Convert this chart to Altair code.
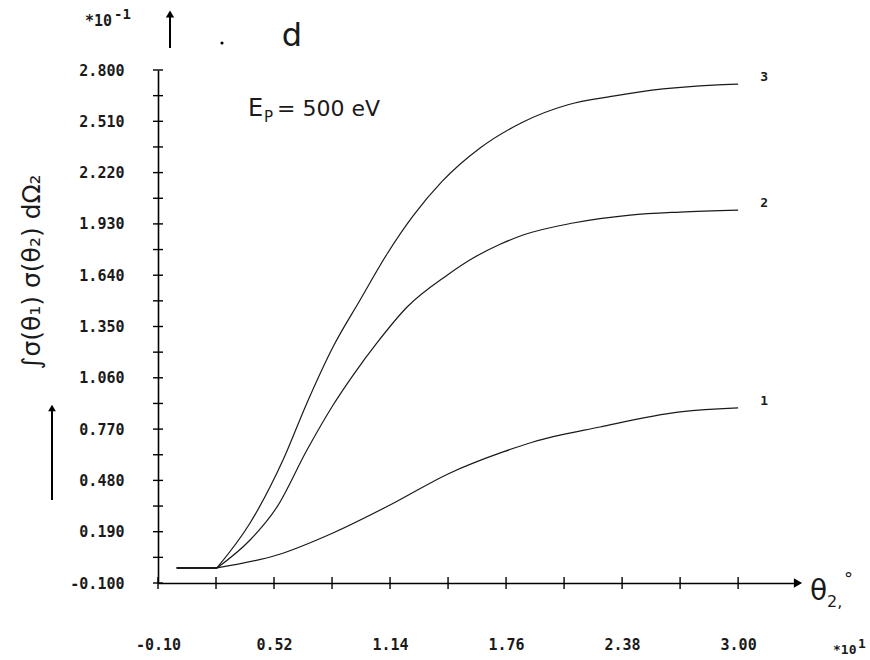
import altair as alt
import pandas as pd

# ---- data (x in units of 10^1 deg, y in units of 10^-1) ----
x_curve1 = [0.00, 0.215, 0.536, 0.835, 1.140, 1.461, 1.744, 1.904, 2.262, 2.690, 2.973, 3.00]
y_curve1 = [-0.015, -0.015, 0.058, 0.183, 0.341, 0.522, 0.641, 0.697, 0.782, 0.867, 0.889, 0.890]

x_curve2 = [0.00, 0.215, 0.392, 0.536, 0.696, 0.835, 0.942, 1.070, 1.231, 1.445, 1.584,
            1.728, 1.851, 2.118, 2.423, 2.690, 3.00]
y_curve2 = [-0.015, -0.015, 0.143, 0.330, 0.652, 0.905, 1.074, 1.257, 1.460, 1.640, 1.737,
            1.815, 1.867, 1.935, 1.980, 1.997, 2.008]

x_curve3 = [0.00, 0.215, 0.392, 0.568, 0.696, 0.835, 0.980, 1.124, 1.263, 1.418, 1.621,
            1.851, 2.086, 2.332, 2.599, 2.866, 3.00]
y_curve3 = [-0.015, -0.015, 0.239, 0.595, 0.918, 1.234, 1.500, 1.760, 1.975, 2.170, 2.359,
            2.506, 2.602, 2.652, 2.693, 2.715, 2.720]

curve_names = ["1", "2", "3"]

x_label_values = [-0.10, 0.52, 1.14, 1.76, 2.38, 3.00]
x_tick_values = [-0.10, 0.21, 0.52, 0.83, 1.14, 1.45, 1.76, 2.07, 2.38, 2.69, 3.00]
y_label_values = [-0.100, 0.190, 0.480, 0.770, 1.060, 1.350, 1.640, 1.930, 2.220, 2.510, 2.800]
y_minor_values = [0.045, 0.335, 0.625, 0.915, 1.205, 1.495, 1.785, 2.075, 2.365, 2.655]

x_domain = [-0.10, 3.32]
y_domain = [-0.10, 2.80]

W, H = 640, 513
INK = "#1a1a1a"

# ---- tables ----
rows = []
for name, xs, ys in zip(curve_names, [x_curve1, x_curve2, x_curve3],
                        [y_curve1, y_curve2, y_curve3]):
    for i, (a, b) in enumerate(zip(xs, ys)):
        rows.append({"curve": name, "x": a, "y": b, "order": i})
df = pd.DataFrame(rows)
ends = df.sort_values("order").groupby("curve").tail(1)
flat = df[df["order"] <= 1]
rise = df[df["order"] >= 1]

xscale = alt.Scale(domain=x_domain, nice=False, zero=False)
yscale = alt.Scale(domain=y_domain, nice=False, zero=False)

xaxis = alt.Axis(values=x_label_values, ticks=False, grid=False, domainColor="black",
                 domainWidth=1.6, labelFont="DejaVu Sans Mono", labelFontSize=15,
                 labelFontWeight="bold", labelColor=INK, labelPadding=54, labelFlush=False,
                 labelOverlap=False,
                 labelExpr="replace(format(datum.value, '.2f'), '\u2212', '-')", title=None)
yaxis = alt.Axis(values=y_label_values, ticks=False, grid=False, domainColor="black",
                 domainWidth=1.6, labelFont="DejaVu Sans Mono", labelFontSize=15,
                 labelFontWeight="bold", labelColor=INK, labelPadding=34, labelFlush=False,
                 labelOverlap=False,
                 labelExpr="replace(format(datum.value, '.3f'), '\u2212', '-')", title=None)

X = lambda f: alt.X(f, type="quantitative", scale=xscale, axis=xaxis)
Y = lambda f: alt.Y(f, type="quantitative", scale=yscale, axis=yaxis)

flat_line = alt.Chart(flat).mark_line(color=INK, strokeWidth=1.8).encode(
    x=X("x"), y=Y("y"), detail="curve:N", order="order:Q")
lines = alt.Chart(rise).mark_line(color=INK, strokeWidth=1.2, interpolate="monotone").encode(
    x=X("x"), y=Y("y"), detail="curve:N", order="order:Q")

end_labels = alt.Chart(ends).mark_text(font="DejaVu Sans Mono", fontSize=13, fontWeight="bold",
                                       color=INK, dx=26, dy=-7).encode(
    x=X("x"), y=Y("y"), text="curve:N")

xt = alt.Chart(pd.DataFrame({"t": x_tick_values})).mark_rule(color="black", strokeWidth=1.4).encode(
    x=X("t"), y=alt.value(H - 6), y2=alt.value(H + 6))
yt = alt.Chart(pd.DataFrame({"t": y_label_values + y_minor_values})).mark_rule(
    color="black", strokeWidth=1.4).encode(
    y=Y("t"), x=alt.value(-5), x2=alt.value(5))

arrow_x = alt.Chart(pd.DataFrame({"x": [x_domain[1]], "y": [y_domain[0]]})).mark_point(
    shape="triangle-right", filled=True, color="black", size=90, opacity=1).encode(
    x=X("x"), y=Y("y"))

def txt(s, x, y, size=14, font="DejaVu Sans", align="left", baseline="alphabetic", angle=0,
        weight="normal"):
    kw = dict(text=s, font=font, fontSize=size, color=INK, align=align, baseline=baseline,
              fontWeight=weight)
    if angle:
        kw["angle"] = angle
    return alt.Chart(pd.DataFrame({"a": [0]})).mark_text(**kw).encode(
        x=alt.value(x), y=alt.value(y))

ann = [
    txt("*10", -73, -44, size=15, font="DejaVu Sans Mono", weight="bold"),
    txt("-1", -44, -51, size=14, font="DejaVu Sans Mono", weight="bold"),
    txt("d", 134, -24, size=32, align="center"),
    txt("E", 90, 46, size=24),
    txt("P", 106, 52, size=15),
    txt("= 500 eV", 119, 46, size=22),
    txt("\u222b\u03c3(\u03b8\u2081) \u03c3(\u03b8\u2082) d\u03a9\u2082", -126, 202, size=25,
        align="center", baseline="middle", angle=270),
    txt("\u03b8", 652, 522, size=28, baseline="middle"),
    txt("2,", 669, 532, size=16, baseline="middle"),
    txt("\u00b0", 686, 510, size=18, baseline="middle"),
    txt("*10", 675, 584, size=13, font="DejaVu Sans Mono", weight="bold"),
    txt("1", 700, 578, size=13, font="DejaVu Sans Mono", weight="bold"),
]

yarrow_rule = alt.Chart(pd.DataFrame({"a": [0]})).mark_rule(color="black", strokeWidth=2).encode(
    x=alt.value(12), y=alt.value(-22), y2=alt.value(-54))
yarrow_head = alt.Chart(pd.DataFrame({"a": [0]})).mark_point(
    shape="triangle-up", filled=True, color="black", size=70, opacity=1).encode(
    x=alt.value(12), y=alt.value(-56))
dot = alt.Chart(pd.DataFrame({"a": [0]})).mark_point(
    shape="circle", filled=True, color="black", size=10, opacity=1).encode(
    x=alt.value(64), y=alt.value(-27))
tarrow_rule = alt.Chart(pd.DataFrame({"a": [0]})).mark_rule(color="black", strokeWidth=2).encode(
    x=alt.value(-106), y=alt.value(430), y2=alt.value(340))
tarrow_head = alt.Chart(pd.DataFrame({"a": [0]})).mark_point(
    shape="triangle-up", filled=True, color="black", size=60, opacity=1).encode(
    x=alt.value(-106), y=alt.value(338))

chart = alt.layer(lines, flat_line, end_labels, xt, yt, arrow_x, yarrow_rule, yarrow_head, dot,
                  tarrow_rule, tarrow_head, *ann).properties(
    width=W, height=H,
    autosize=alt.AutoSizeParams(type="none"),
    padding={"left": 158, "top": 70, "right": 72, "bottom": 77},
    background="white",
).configure_view(stroke=None)

chart.save("out.html", embed_options={"renderer": "svg", "actions": False})
